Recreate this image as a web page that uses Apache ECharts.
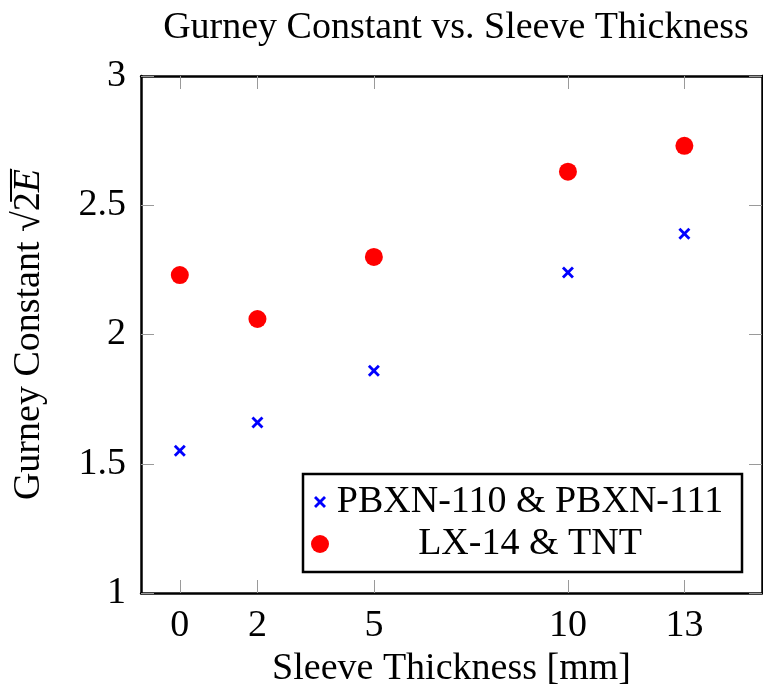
<!DOCTYPE html>
<html>
<head>
<meta charset="utf-8">
<script src="https://cdn.jsdelivr.net/npm/echarts@6/dist/echarts.min.js"></script>
<style>
html,body{margin:0;padding:0;background:#fff;}
#c{width:763px;height:688px;}
</style>
</head>
<body>
<div id="c"></div>
<script>
const titleText = 'Gurney Constant vs. Sleeve Thickness';
const xName = 'Sleeve Thickness [mm]';
const xTicks = [0, 2, 5, 10, 13];
const thickness = [0, 2, 5, 10, 13];
const pbxn = [1.55, 1.66, 1.86, 2.24, 2.39];
const lx14 = [2.23, 2.06, 2.30, 2.63, 2.73];
const seriesNames = ['PBXN-110 & PBXN-111', 'LX-14 & TNT'];

const FONT = 'Liberation Serif';
const FS = 38;
const crossPath = 'path://M2,0 L6,4 L10,0 L12,2 L8,6 L12,10 L10,12 L6,8 L2,12 L0,10 L4,6 L0,2 Z';
const crossLegend = 'path://M-3,-3 L-3,-3 Z M2,0 L6,4 L10,0 L12,2 L8,6 L12,10 L10,12 L6,8 L2,12 L0,10 L4,6 L0,2 Z M15,15 L15,15 Z';

const chart = echarts.init(document.getElementById('c'), null, {renderer: 'canvas'});
const tickStyle = {show: true, inside: true, length: 13, lineStyle: {color: '#9a9a9a', width: 1}};
const lineStyle = {show: true, onZero: false, lineStyle: {color: '#000', width: 2.5}};

chart.setOption({
  animation: false,
  backgroundColor: '#fff',
  title: {
    text: titleText, left: 451, textAlign: 'center', top: 4,
    textStyle: {fontFamily: FONT, fontSize: FS, fontWeight: 'normal', color: '#000'}
  },
  grid: {left: 141, right: 1, top: 76, bottom: 95, outerBoundsMode: 'none', containLabel: false},
  legend: {
    left: 303, top: 474, orient: 'vertical',
    borderColor: '#000', borderWidth: 2.5, backgroundColor: '#fff',
    padding: [9, 16, 9, 8], itemGap: 4, itemWidth: 18, itemHeight: 18,
    data: [
      {name: seriesNames[0], icon: crossLegend},
      {name: seriesNames[1], icon: 'circle'}
    ],
    formatter: n => '{t|' + n + '}',
    textStyle: {
      rich: {t: {fontFamily: FONT, fontSize: FS, color: '#000', width: 392, align: 'center', lineHeight: 40}}
    }
  },
  xAxis: [{
    type: 'value', min: -1, max: 15, position: 'bottom',
    name: xName, nameLocation: 'middle', nameGap: 52,
    nameTextStyle: {fontFamily: FONT, fontSize: FS, color: '#000'},
    axisLine: lineStyle,
    axisTick: Object.assign({customValues: xTicks}, tickStyle),
    axisLabel: {customValues: xTicks, fontFamily: FONT, fontSize: FS, color: '#000', margin: 14},
    splitLine: {show: false}
  }, {
    type: 'value', min: -1, max: 15, position: 'top',
    axisLine: lineStyle,
    axisTick: Object.assign({customValues: xTicks}, tickStyle),
    axisLabel: {show: false},
    splitLine: {show: false}
  }],
  yAxis: [{
    type: 'value', min: 1, max: 3, interval: 0.5, position: 'left',
    name: '{n|Gurney Constant }{s|√}{o|2̅}{i|E̅}',
    nameLocation: 'middle', nameRotate: 90, nameGap: 93,
    nameTextStyle: {
      rich: {
        n: {fontFamily: FONT, fontSize: FS, color: '#000'},
        s: {fontFamily: FONT, fontSize: FS, color: '#000'},
        o: {fontFamily: FONT, fontSize: FS, color: '#000'},
        i: {fontFamily: FONT, fontSize: FS, color: '#000', fontStyle: 'italic'}
      }
    },
    axisLine: lineStyle,
    axisTick: tickStyle,
    axisLabel: {fontFamily: FONT, fontSize: FS, color: '#000', margin: 15},
    splitLine: {show: false}
  }, {
    type: 'value', min: 1, max: 3, interval: 0.5, position: 'right',
    axisLine: lineStyle,
    axisTick: tickStyle,
    axisLabel: {show: false},
    splitLine: {show: false}
  }],
  series: [{
    name: seriesNames[0], type: 'scatter',
    data: thickness.map((x, i) => [x, pbxn[i]]),
    symbol: crossPath, symbolSize: 12,
    itemStyle: {color: '#0000ff', opacity: 1}
  }, {
    name: seriesNames[1], type: 'scatter',
    data: thickness.map((x, i) => [x, lx14[i]]),
    symbol: 'circle', symbolSize: 18,
    itemStyle: {color: '#ff0000', opacity: 1}
  }]
});
</script>
</body>
</html>
